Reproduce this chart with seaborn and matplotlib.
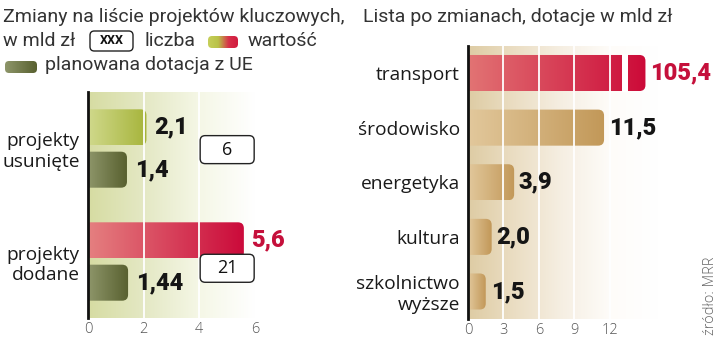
import numpy as np
import pandas as pd
import matplotlib
matplotlib.use("Agg")
import matplotlib.pyplot as plt
import seaborn as sns
from matplotlib.colors import LinearSegmentedColormap
from matplotlib.patches import FancyBboxPatch, Rectangle

# ---------------- data ----------------
groups = ["projekty\nusunięte", "projekty\ndodane"]
wartosc = [2.1, 5.6]
dotacja_ue = [1.4, 1.44]
liczba = [6, 21]
sectors = ["transport", "środowisko", "energetyka", "kultura", "szkolnictwo\nwyższe"]
dotacje = [105.4, 11.5, 3.9, 2.0, 1.5]
left_ticks = [0, 2, 4, 6]
right_ticks = [0, 3, 6, 9, 12]

def fmt(v):
    return f"{v}".replace(".", ",")

sns.set_theme(style="white")
plt.rcParams["font.family"] = ["Open Sans", "DejaVu Sans"]

W, H = 720, 344
fig = plt.figure(figsize=(W / 100, H / 100), dpi=100)
fig.patch.set_facecolor("white")

def fx(px):
    return px / W

def fy(py):
    return 1 - py / H

GRAD = np.linspace(0, 1, 256).reshape(1, -1)

def background(ax, stops):
    cmap = LinearSegmentedColormap.from_list("bg", stops)
    ax.imshow(GRAD, cmap=cmap, extent=(0, 1, 0, 1), transform=ax.transAxes,
              aspect="auto", zorder=0, interpolation="bicubic")

def grad_bar(ax, patch, c0, c1, xpx, ypx, r_px=6):
    x0, y0 = patch.get_x(), patch.get_y()
    w, h = patch.get_width(), patch.get_height()
    patch.set_visible(False)
    r = r_px / xpx
    fb = FancyBboxPatch((x0 - 1.0, y0), w + 1.0, h,
                        boxstyle=f"round,pad=0,rounding_size={r}",
                        mutation_aspect=xpx / ypx, fc="none", ec="none")
    ax.add_patch(fb)
    cmap = LinearSegmentedColormap.from_list("g", [c0, c1])
    im = ax.imshow(GRAD, cmap=cmap, extent=(x0, x0 + w, y0, y0 + h),
                   aspect="auto", zorder=2, interpolation="bicubic")
    im.set_clip_path(fb)
    return x0 + w, y0 + h / 2

NUM_FONT = dict(family=["Roboto", "DejaVu Sans"], fontweight="black", fontsize=17)

# ---------------- left panel ----------------
axL = fig.add_axes([fx(88), fy(318), (255 - 88) / W, (318 - 92) / H])
dfL = pd.DataFrame({
    "grupa": groups * 2,
    "seria": ["wartość"] * len(groups) + ["dotacja"] * len(groups),
    "mld": wartosc + dotacja_ue,
})
sns.barplot(data=dfL, y="grupa", x="mld", hue="seria", order=groups,
            hue_order=["wartość", "dotacja"], orient="h", width=0.75, gap=0.15,
            palette=["#cccccc", "#777777"], legend=False, ax=axL)
background(axL, ["#d6dca2", "#e4e8c4", "#f5f7e6", "#ffffff"])

xpxL = (255 - 88) / 6.0
ypxL = 113.0
val_cols = [("#d0d98c", "#a6b43a"), ("#e58080", "#cb0a3a")]
val_txt = ["#151515", "#c5103b"]
for i, (p, v) in enumerate(zip(axL.containers[0], wartosc)):
    xe, yc = grad_bar(axL, p, val_cols[i][0], val_cols[i][1], xpxL, ypxL)
    axL.annotate(fmt(v), xy=(xe, yc), xytext=(5.5, 0), textcoords="offset points",
                 va="center", ha="left", color=val_txt[i], zorder=5, **NUM_FONT)
for i, (p, v) in enumerate(zip(axL.containers[1], dotacja_ue)):
    xe, yc = grad_bar(axL, p, "#8e966a", "#58602f", xpxL, ypxL)
    axL.annotate(fmt(v), xy=(xe, yc), xytext=(5.5, 0), textcoords="offset points",
                 va="center", ha="left", color="#151515", zorder=5, **NUM_FONT)

box_y = [0.01, 1.06]
for i, n in enumerate(liczba):
    bw, bh = 54 / xpxL, 28 / ypxL
    bx = FancyBboxPatch((5.0 - bw / 2, box_y[i] - bh / 2), bw, bh,
                        boxstyle=f"round,pad=0,rounding_size={5 / xpxL}",
                        mutation_aspect=xpxL / ypxL, fc="white", ec="#222222",
                        lw=1.0, zorder=4, clip_on=False)
    axL.add_patch(bx)
    axL.text(5.0, box_y[i], str(n), ha="center", va="center", fontsize=13,
             color="#111111", zorder=5)

for t in left_ticks[1:]:
    axL.axvline(t, color="white", lw=1.3, zorder=3)
axL.set_xlim(0, 6)
axL.set_ylim(1.5, -0.5)
axL.set_xticks(left_ticks)
axL.set_xticklabels([str(t) for t in left_ticks])

# ---------------- right panel ----------------
cap = 15.0
shown = [min(v, cap) for v in dotacje]
xmaxR = 16.0
axR = fig.add_axes([fx(468), fy(318.8), (xmaxR * 11.83) / W, (318.8 - 45.7) / H])
dfR = pd.DataFrame({"sektor": sectors, "mld": shown})
sns.barplot(data=dfR, y="sektor", x="mld", order=sectors, orient="h", width=0.66,
            color="#c9a46c", ax=axR)
background(axR, ["#decca4", "#ebdec4", "#f6efe3", "#fefcf9", "#ffffff"])

xpxR, ypxR = 11.83, 54.6
for i, (p, v) in enumerate(zip(axR.patches, dotacje)):
    if i == 0:
        c0, c1, tc = "#e27474", "#cc0a38", "#c5103b"
    else:
        c0, c1, tc = "#e2c89c", "#c29858", "#151515"
    y0, h = p.get_y(), p.get_height()
    xe, yc = grad_bar(axR, p, c0, c1, xpxR, ypxR)
    if v > cap:
        axR.add_patch(Rectangle((13.0, y0 - 0.02), 0.5, h + 0.04, fc="white",
                                ec="none", zorder=2.5))
    axR.annotate(fmt(v), xy=(xe, yc), xytext=(3.5, 0), textcoords="offset points",
                 va="center", ha="left", color=tc, zorder=5, **NUM_FONT)

for t in right_ticks[1:]:
    axR.axvline(t, color="white", lw=1.3, zorder=3)
axR.set_xlim(0, xmaxR)
axR.set_ylim(len(sectors) - 0.5, -0.5)
axR.set_xticks(right_ticks)
axR.set_xticklabels([str(t) for t in right_ticks])

# ---------------- common axis styling ----------------
for ax in (axL, axR):
    ax.set_xlabel("")
    ax.set_ylabel("")
    for s in ("top", "right", "bottom"):
        ax.spines[s].set_visible(False)
    ax.spines["left"].set_color("#111111")
    ax.spines["left"].set_linewidth(2)
    ax.spines["left"].set_zorder(6)
    ax.tick_params(axis="y", length=0, pad=6, labelsize=13.8, labelcolor="#1a1a1a")
    ax.tick_params(axis="x", length=0, pad=3, labelsize=10.5, labelcolor="#555555")
    for lab in ax.get_xticklabels():
        lab.set_fontweight("light")
    ax.grid(False)

# ---------------- titles & legend ----------------
TFONT = dict(family=["Roboto", "DejaVu Sans"], fontweight="normal", fontsize=14,
             color="#333333", va="baseline")
fig.text(fx(3), fy(22), "Zmiany na liście projektów kluczowych,", **TFONT)
fig.text(fx(3), fy(46), "w mld zł", **TFONT)
fig.text(fx(145), fy(46), "liczba", **TFONT)
fig.text(fx(248), fy(46), "wartość", **TFONT)
fig.text(fx(45), fy(70), "planowana dotacja z UE", **TFONT)
fig.text(fx(363), fy(22), "Lista po zmianach, dotacje w mld zł", **TFONT)

xb = FancyBboxPatch((fx(90), fy(51)), 43 / W, 20 / H, boxstyle="round,pad=0,rounding_size=0.006",
                    mutation_aspect=W / H, transform=fig.transFigure, fc="white",
                    ec="#222222", lw=1.0)
fig.add_artist(xb)
fig.text(fx(111.5), fy(41), "XXX", ha="center", va="center", fontsize=9,
         family=["Roboto", "DejaVu Sans"], fontweight="bold", color="#111111")

def swatch(x0, y0, w, h, stops):
    sw = fig.add_axes([fx(x0), fy(y0 + h), w / W, h / H])
    sw.axis("off")
    cmap = LinearSegmentedColormap.from_list("sw", stops)
    im = sw.imshow(GRAD, cmap=cmap, extent=(0, 1, 0, 1), aspect="auto",
                   interpolation="bicubic")
    cp = FancyBboxPatch((0, 0), 1, 1, boxstyle=f"round,pad=0,rounding_size={4 / w}",
                        mutation_aspect=w / h, transform=sw.transAxes, fc="none", ec="none")
    sw.add_patch(cp)
    im.set_clip_path(cp)

swatch(208, 36, 30, 12, ["#c6cf5a", "#b9c248", "#d8304a", "#d01a3e"])
swatch(5, 61, 32, 12, ["#8e966a", "#58602f"])

fig.text(fx(711), fy(296), "źródło: MRR", rotation=90, ha="center", va="center",
         fontsize=10.5, fontweight="light", color="#666666")

fig.savefig("out.png", dpi=100, facecolor="white")
